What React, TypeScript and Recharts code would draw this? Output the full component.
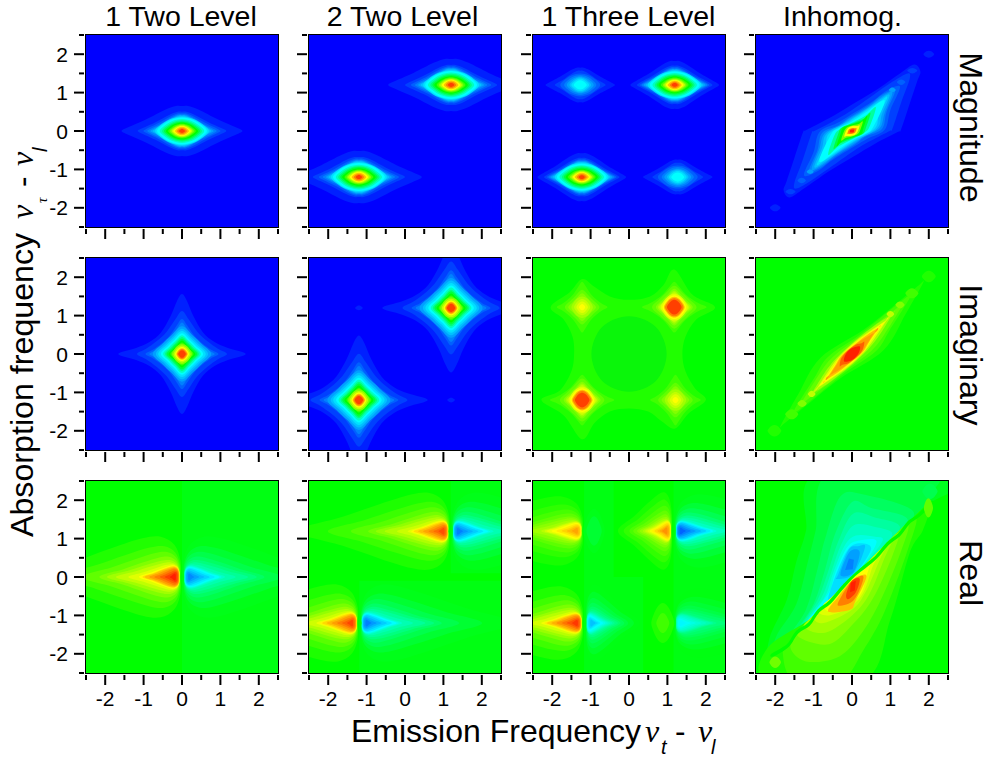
import React from "react";
import { ScatterChart, Scatter, XAxis, YAxis, ReferenceArea } from "recharts";

// axis values
const tickValues = [-2.5, -2, -1.5, -1, -0.5, 0, 0.5, 1, 1.5, 2, 2.5];
const columnTitles = ["1 Two Level", "2 Two Level", "1 Three Level", "Inhomog."];
const rowTitles = ["Magnitude", "Imaginary", "Real"];

// contour level numbers: 0 blue, 8 cyan, 16 green, 24 yellow, 32 red
type Pt = [number, number];
type Row = [number, number, number, Pt[]?];
type LobeRow = [number, number, number, number];
type Band = { level: number | string; pts: Pt[] };

// normalised first-quadrant outlines, tip on x axis to tip on y axis
const kiteOutline: Pt[] = [[1, 0], [0.94, 0.1], [0.6, 0.46], [0.28, 0.85], [0.1, 1], [0, 1]];
const roundOutline: Pt[] = [[1, 0], [0.8, 0.42], [0.45, 0.82], [0, 1]];
const starOutline: Pt[] = [[1, 0], [0.72, 0.1], [0.51, 0.2], [0.33, 0.36], [0.18, 0.63], [0.08, 0.88], [0, 1]];
const softStarOutline: Pt[] = [[1, 0], [0.8, 0.12], [0.56, 0.3], [0.34, 0.52], [0.14, 0.82], [0, 1]];
const diamondOutline: Pt[] = [[1, 0], [0.66, 0.38], [0.38, 0.66], [0, 1]];
// real-part lobe: tail tip round to the nose at the node line
const lobeOutline: Pt[] = [[1, 0], [0.7, 0.38], [0.45, 0.72], [0.25, 0.96], [0.13, 1], [0.04, 0.8], [0, 0.4], [0, 0]];

// [level, half width, half height, outline]
const magnitudeRows: Row[] = [
  [1, 1.57, 0.65, kiteOutline], [2, 1.15, 0.5, kiteOutline], [3, 1.0, 0.46, kiteOutline],
  [4, 0.9, 0.43, kiteOutline], [5, 0.82, 0.41, kiteOutline], [6, 0.76, 0.39, kiteOutline], [7, 0.7, 0.37], [8, 0.65, 0.35],
  [10, 0.58, 0.31], [12, 0.52, 0.28], [14, 0.47, 0.25], [16, 0.42, 0.22], [18, 0.36, 0.19], [20, 0.31, 0.17],
  [22, 0.27, 0.15], [24, 0.23, 0.13], [26, 0.18, 0.11], [28, 0.13, 0.08], [30, 0.08, 0.05],
];
const magnitudeInnerRows: Row[] = [
  [1, 1.15, 0.62, kiteOutline], [2, 0.98, 0.5, kiteOutline], [3, 0.9, 0.46, kiteOutline],
  [4, 0.85, 0.43, kiteOutline], [5, 0.8, 0.41, kiteOutline], [6, 0.75, 0.39, kiteOutline], ...magnitudeRows.slice(6),
];
const softMagnitudeRows: Row[] = [
  [1, 0.9, 0.45, kiteOutline], [2, 0.66, 0.37, kiteOutline], [3, 0.52, 0.3], [4, 0.42, 0.26],
  [5, 0.35, 0.22], [6, 0.28, 0.19], [7, 0.23, 0.16], [8, 0.17, 0.12],
];
const imaginaryRows: Row[] = [
  [1, 1.66, 1.56, starOutline], [2, 1.17, 1.12, softStarOutline], [3, 0.95, 0.91, softStarOutline],
  [4, 0.85, 0.82, softStarOutline], [5, 0.76, 0.72, diamondOutline], [6, 0.68, 0.66, diamondOutline],
  [7, 0.62, 0.6, diamondOutline], [8, 0.55, 0.54, diamondOutline], [10, 0.49, 0.49, diamondOutline],
  [12, 0.44, 0.44, diamondOutline], [14, 0.4, 0.4, diamondOutline], [16, 0.35, 0.35, diamondOutline],
  [18, 0.3, 0.3, diamondOutline], [20, 0.26, 0.26], [22, 0.22, 0.22], [24, 0.18, 0.18], [26, 0.15, 0.15], [28, 0.13, 0.13], [30, 0.1, 0.1],
];
const imagRedRows: Row[] = [
  [18, 0.84, 0.66, softStarOutline], [19, 0.58, 0.56, diamondOutline], [20, 0.48, 0.48, diamondOutline],
  [21, 0.43, 0.43, diamondOutline], [22, 0.39, 0.39, diamondOutline], [23, 0.35, 0.35], [24, 0.31, 0.31],
  [26, 0.27, 0.27], [28, 0.24, 0.24], [30, 0.19, 0.19],
];
const imagYellowRows: Row[] = [
  [18, 0.66, 0.66, softStarOutline], [19, 0.45, 0.45, diamondOutline], [20, 0.36, 0.36, diamondOutline],
  [21, 0.28, 0.28], [22, 0.21, 0.21], [23, 0.15, 0.15], [24, 0.08, 0.08],
];
const imagWeb: Pt[] = [
  [1.18, 2.2], [0.9, 1.8], [0.55, 1.5], [0, 1.41], [-0.5, 1.5], [-0.9, 1.75], [-1.22, 1.95], [-1.55, 1.6], [-2.04, 1.22],
  [-1.7, 0.9], [-1.47, 0.45], [-1.43, 0], [-1.5, -0.45], [-1.8, -0.95], [-2.28, -1.2], [-1.7, -1.6], [-1.22, -2.22],
  [-0.9, -1.8], [-0.5, -1.5], [0, -1.42], [0.5, -1.5], [0.85, -1.75], [1.2, -1.94], [1.55, -1.55], [2.0, -1.2],
  [1.72, -0.9], [1.47, -0.45], [1.39, 0], [1.47, 0.45], [1.75, 0.9], [2.24, 1.22], [1.65, 1.55],
];
const imagHole: Pt[] = [[0.98, 0], [0.7, 0.7], [0, 0.98], [-0.7, 0.7], [-0.98, 0], [-0.7, -0.7], [0, -0.98], [0.7, -0.7]];

// [level, tail length, half height, nose offset] for the red lobe
const lobeRows: LobeRow[] = [
  [17, 4, 1.05, 0.04], [18, 3.2, 0.8, 0.05], [19, 2.6, 0.65, 0.06], [20, 2.15, 0.53, 0.07],
  [21, 1.95, 0.44, 0.07], [22, 1.72, 0.38, 0.07], [23, 1.4, 0.33, 0.07], [24, 1.12, 0.3, 0.07],
  [25, 1.03, 0.28, 0.07], [26, 0.97, 0.26, 0.08], [27, 0.85, 0.24, 0.08], [28, 0.72, 0.21, 0.09],
  [29, 0.58, 0.17, 0.1], [30, 0.45, 0.13, 0.12], [31, 0.32, 0.09, 0.16],
];
const shortLobeRows: LobeRow[] = [
  [17, 1.45, 1.05, 0.04], [18, 1.3, 0.85, 0.05], [19, 1.15, 0.68, 0.06], [20, 1.05, 0.55, 0.07],
  [21, 0.95, 0.45, 0.08], [22, 0.88, 0.38, 0.08], [23, 0.8, 0.33, 0.09], [24, 0.74, 0.3, 0.07],
  [25, 0.68, 0.28, 0.07], [26, 0.62, 0.26, 0.08], [27, 0.56, 0.24, 0.08], [28, 0.5, 0.21, 0.09],
  [29, 0.42, 0.17, 0.1], [30, 0.36, 0.13, 0.12], [31, 0.3, 0.09, 0.16],
];

// inhomogeneous panels: half of a point-symmetric contour
const inhomogMagRows: [number, Pt[]][] = [
  [1, [[1.78, 1.55], [1.7, 1.3], [1.5, 0.7], [1.27, 0.02], [1.2, -0.02], [0.6, -0.33], [0.03, -0.67], [-0.6, -1.05], [-1.25, -1.5], [-1.62, -1.73]]],
  [2, [[1.5, 1.35], [1.3, 0.8], [1.05, 0.05], [0.98, 0], [0.5, -0.25], [0.1, -0.48], [-0.5, -0.9], [-1.05, -1.28], [-1.45, -1.5]]],
  [3, [[1.25, 1.15], [1.0, 0.55], [0.85, 0.03], [0.4, -0.2], [0.1, -0.38], [-0.5, -0.75], [-0.9, -1.05]]],
  [4, [[1.12, 1.05], [0.9, 0.5], [0.78, 0.05], [0.35, -0.15], [0.1, -0.33], [-0.45, -0.68], [-0.8, -0.95]]],
  [5, [[1.05, 1.0], [0.85, 0.47], [0.72, 0.07], [0.3, -0.14], [0.1, -0.3], [-0.42, -0.62], [-0.76, -0.88]]],
  [6, [[0.98, 0.94], [0.78, 0.44], [0.66, 0.07], [0.1, -0.26], [-0.38, -0.57], [-0.7, -0.8]]],
  [7, [[0.92, 0.88], [0.7, 0.42], [0.6, 0.07], [0.08, -0.24], [-0.68, -0.74]]],
  [8, [[0.85, 0.8], [0.55, 0.1], [0.35, -0.07], [0.05, -0.22], [-0.35, -0.48]]],
  [11, [[0.62, 0.62], [0.45, 0.1], [0.3, -0.05], [0.03, -0.2], [-0.35, -0.4]]],
  [14, [[0.48, 0.47], [0.36, 0.08], [0.28, -0.08], [0.03, -0.18], [-0.3, -0.32]]],
  [16, [[0.4, 0.4], [0.3, 0.08], [0.24, -0.08], [0.03, -0.16], [-0.25, -0.26]]],
  [20, [[0.28, 0.25], [0.22, 0.04], [0.15, -0.08], [0, -0.14], [-0.17, -0.18]]],
  [24, [[0.2, 0.14], [0.14, -0.03], [0.03, -0.12], [-0.14, -0.13]]],
  [28, [[0.12, 0.07], [0.08, -0.04], [-0.02, -0.08], [-0.09, -0.07]]],
  [31, [[0.06, 0.04], [0.04, -0.03], [-0.04, -0.04]]],
];
const inhomogMagBeads: [number, number, number, number, number][] = [
  [1, 2.0, 2.0, 0.14, 0.09], [1, -2.0, -2.0, 0.14, 0.09],
  [2, 1.57, 1.57, 0.13, 0.07], [2, -1.6, -1.58, 0.13, 0.07],
  [3, 1.28, 1.27, 0.11, 0.07], [3, -1.31, -1.29, 0.11, 0.07],
  [5, 1.05, 1.07, 0.09, 0.06], [5, -1.09, -1.06, 0.09, 0.06],
];
const inhomogImagRows: [number, Pt[]][] = [
  [17, [[1.85, 1.85], [1.4, 1.05], [0.82, 0.1], [-0.3, -0.63], [-1.2, -1.35], [-1.75, -1.8]]],
  [18, [[1.5, 1.45], [0.98, 0.62], [0.62, 0.07], [-0.2, -0.5], [-1.0, -1.15], [-1.45, -1.5]]],
  [19, [[1.3, 1.25], [0.85, 0.52], [0.5, 0.08], [-0.15, -0.42], [-0.75, -0.88], [-1.25, -1.25]]],
  [21, [[1.08, 1.08], [0.72, 0.5], [0.4, 0.1], [-0.1, -0.36], [-0.6, -0.75], [-1.05, -1.05]]],
  [23, [[0.95, 0.95], [0.6, 0.42], [0.34, 0.08], [-0.08, -0.32], [-0.5, -0.62], [-0.92, -0.9]]],
  [24, [[0.9, 0.9], [0.52, 0.38], [0.3, 0.06], [-0.07, -0.28], [-0.45, -0.56], [-0.88, -0.86]]],
  [26, [[0.72, 0.72], [0.45, 0.32], [0.27, 0.04], [-0.06, -0.24], [-0.4, -0.5], [-0.72, -0.7]]],
  [27, [[0.65, 0.66], [0.4, 0.28], [0.24, 0.03], [-0.05, -0.22], [-0.35, -0.42], [-0.65, -0.6]]],
  [29, [[0.32, 0.32], [0.28, 0.12], [0.12, -0.08], [-0.1, -0.24], [-0.25, -0.28]]],
  [31, [[0.2, 0.2], [0.17, 0.02], [0.02, -0.14]]],
];
const inhomogImagBeads: [number, number, number, number, number][] = [
  [17, 2.0, 2.02, 0.18, 0.15], [17, -2.02, -2.0, 0.18, 0.15],
  [18, 1.56, 1.58, 0.17, 0.13], [18, -1.57, -1.57, 0.17, 0.13],
  [20, 1.25, 1.28, 0.12, 0.09], [20, -1.3, -1.29, 0.12, 0.09],
  [22, 1.0, 1.04, 0.1, 0.08], [22, -1.05, -1.04, 0.1, 0.08],
];
const inhomogRealBlue: [number, Pt[]][] = [
  [15, [[-2.1, -2.2], [-2.15, -1.6], [-1.7, -0.6], [-1.45, 0.4], [-1.2, 1.2], [-0.9, 2.7], [2.7, 2.7], [2.7, 2.3], [1.95, 1.87], [1, 0.96], [0, 0.02], [-1, -1.02]]],
  [14, [[-2.0, -1.95], [-1.95, -1.5], [-1.45, -0.7], [-1.15, 0.4], [-0.95, 1.2], [-0.6, 2.7], [2.1, 2.7], [2.1, 2.2], [1.9, 1.85], [1, 0.96], [0, 0.02], [-1, -1.02]]],
  [13, [[-1.75, -1.7], [-1.2, -0.85], [-0.9, 0.2], [-0.7, 1], [-0.3, 2.1], [0.3, 2.15], [1.6, 1.7], [1, 0.96], [0, 0.02], [-1, -1.02]]],
  [12, [[-1.5, -1.5], [-1.0, -0.7], [-0.7, 0.2], [-0.45, 1.1], [0, 1.95], [0.5, 1.8], [1.45, 1.5], [0.8, 0.78], [0, 0.02], [-0.8, -0.82]]],
  [11, [[-1.35, -1.35], [-0.9, -0.6], [-0.62, 0.15], [-0.35, 0.95], [0.03, 1.65], [0.6, 1.55], [1.25, 1.3], [0.7, 0.68], [0, 0.02], [-0.7, -0.72]]],
  [10, [[-1.25, -1.25], [-0.8, -0.55], [-0.55, 0.1], [-0.28, 0.85], [0.05, 1.35], [0.6, 1.3], [1.05, 1.1], [0.5, 0.48], [0, 0.02], [-0.6, -0.62]]],
  [9, [[-1.2, -1.2], [-0.7, -0.5], [-0.5, 0.08], [-0.2, 0.8], [0.1, 1.08], [0.6, 1.05], [0.8, 0.95], [0.4, 0.42], [0, 0.02], [-0.6, -0.62]]],
  [8, [[-1.15, -1.15], [-0.6, -0.4], [-0.44, 0.1], [-0.12, 0.78], [0.2, 0.95], [0.64, 0.93], [0.3, 0.32], [0, 0.02], [-0.6, -0.62]]],
  [7, [[-0.62, -0.6], [-0.42, 0.05], [-0.1, 0.72], [0.2, 0.88], [0.5, 0.75], [0.2, 0.22], [0, 0.02], [-0.3, -0.32]]],
  [6, [[-0.4, -0.05], [-0.36, 0.06], [-0.08, 0.72], [0.15, 0.8], [0.34, 0.78], [0.03, 0.08]]],
  [5, [[-0.3, 0.05], [-0.1, 0.6], [0.1, 0.72], [0.2, 0.6], [0.03, 0.12]]],
  [4, [[-0.18, 0.18], [-0.08, 0.48], [0.05, 0.45], [0.02, 0.2]]],
];
const inhomogRealRed: [number, Pt[]][] = [
  [17, [[2.0, 1.9], [1.85, 1.23], [1.5, 0.62], [1, -1.1], [0.3, -2.7], [-2.2, -2.7], [-2.2, -1.85], [-1, -1.02], [0, -0.02], [1, 0.95]]],
  [18, [[1.65, 1.55], [1.45, 0.7], [0.85, -0.9], [0.3, -1.9], [-0.3, -2.7], [-1.5, -2.7], [-1.8, -2.0], [-1.6, -1.65], [-0.8, -0.82], [0, -0.02], [0.8, 0.76]]],
  [19, [[1.45, 1.38], [1.25, 0.6], [0.7, -0.7], [0.15, -1.6], [-0.4, -2.1], [-1.2, -2.2], [-1.6, -1.85], [-1.4, -1.45], [-0.7, -0.72], [0, -0.02], [0.7, 0.66]]],
  [20, [[1.2, 1.15], [1.05, 0.55], [0.55, -0.55], [0.05, -1.2], [-0.6, -1.75], [-1.4, -1.55], [-1.2, -1.2], [-0.6, -0.62], [0, -0.02], [0.6, 0.56]]],
  [21, [[1.05, 1.0], [0.85, 0.5], [0.45, -0.45], [0, -1], [-0.7, -1.45], [-1.25, -1.3], [-1.0, -1], [-0.5, -0.52], [0, -0.02], [0.5, 0.47]]],
  [22, [[0.9, 0.85], [0.7, 0.4], [0.35, -0.4], [0, -0.85], [-0.75, -1.2], [-1, -1.05], [-0.8, -0.8], [-0.4, -0.42], [0, -0.02], [0.45, 0.42]]],
  [23, [[0.8, 0.75], [0.55, 0.3], [0.3, -0.4], [-0.05, -0.78], [-0.6, -1], [-0.9, -0.9], [-0.7, -0.7], [-0.35, -0.37], [0, -0.02], [0.4, 0.37]]],
  [24, [[0.68, 0.62], [0.45, 0.25], [0.25, -0.4], [-0.05, -0.7], [-0.55, -0.9], [-0.75, -0.75], [-0.55, -0.55], [-0.25, -0.27], [0, -0.02], [0.35, 0.32]]],
  [26, [[0.38, 0.02], [0.08, -0.65], [-0.05, -0.85], [-0.62, -0.9], [-0.35, -0.5], [0.05, -0.05]]],
  [28, [[0.3, 0], [0.05, -0.6], [-0.35, -0.75], [-0.3, -0.55], [0, -0.1]]],
  [30, [[0.2, -0.05], [0.1, -0.4], [-0.1, -0.58], [-0.15, -0.45], [0, -0.1]]],
  [31, [[0.1, -0.1], [0.07, -0.35], [-0.05, -0.4], [-0.03, -0.15]]],
];
// stepped green seam between the two sides of the last panel
const inhomogRealSeam: Pt[] = [
  [-2.1, -2.0], [-1.7, -1.75], [-1.45, -1.4], [-1.15, -1.2], [-0.9, -0.85], [-0.6, -0.62], [-0.3, -0.27], [-0.08, -0.04],
  [0.3, 0.3], [0.6, 0.55], [0.9, 0.9], [1.2, 1.13], [1.45, 1.45], [1.7, 1.63], [2.05, 1.97],
  [2.1, 1.9], [1.75, 1.56], [1.5, 1.38], [1.25, 1.06], [0.95, 0.83], [0.65, 0.48], [0.35, 0.23],
  [0.08, 0.02], [-0.25, -0.34], [-0.55, -0.69], [-0.85, -0.92], [-1.1, -1.27], [-1.4, -1.47], [-1.65, -1.82], [-2.05, -2.07],
];

const levelColor = (v: number | string) => {
  if (typeof v === "string") return v;
  const c = (n: number) => Math.round(Math.max(0, Math.min(255, n)));
  if (v <= 8) return `rgb(0,${c(v * 32)},255)`;
  if (v <= 16) return `rgb(0,255,${c(255 - (v - 8) * 32)})`;
  if (v <= 24) return `rgb(${c((v - 16) * 32)},255,0)`;
  return `rgb(255,${c(255 - (v - 24) * 32)},0)`;
};

const mirror4 = (cx: number, cy: number, hx: number, hy: number, o: Pt[]): Pt[] => {
  const q: Pt[] = [
    ...o,
    ...o.slice(0, -1).reverse().map(([u, v]) => [-u, v] as Pt),
    ...o.slice(1).map(([u, v]) => [-u, -v] as Pt),
    ...o.slice(1, -1).reverse().map(([u, v]) => [u, -v] as Pt),
  ];
  return q.map(([u, v]) => [cx + u * hx, cy + v * hy] as Pt);
};
const blob = (cx: number, cy: number, rows: Row[], size = 1): Band[] =>
  rows.map(([level, hx, hy, o]) => ({ level, pts: mirror4(cx, cy, hx * size, hy * size, o ?? roundOutline) }));

// dir -1: red lobe left of the node, dir 1: blue lobe right of it
const lobe = (node: number, cy: number, dir: number, amp: number, hScale = 1, rows = lobeRows): Band[] =>
  rows.map(([lv, tip, hy, nose]) => {
    const upper = lobeOutline.map(([f, h]) => [node + dir * (nose + f * (tip - nose)), cy + h * hy * hScale] as Pt);
    const lower = upper.slice(1, -1).reverse().map(([x, y]) => [x, 2 * cy - y] as Pt);
    return { level: dir < 0 ? 16 + (lv - 16) * amp : 16 - (lv - 16) * amp, pts: [...upper, ...lower] };
  });

const rect = (level: number, x0: number, x1: number, y0: number, y1: number): Band => ({
  level,
  pts: [[x0, y0], [x1, y0], [x1, y1], [x0, y1]],
});
const pointSym = (rows: [number, Pt[]][]): Band[] =>
  rows.map(([level, half]) => ({ level, pts: [...half, ...half.map(([x, y]) => [-x, -y] as Pt)] }));
const beads = (rows: [number, number, number, number, number][]): Band[] =>
  rows.map(([level, cx, cy, hx, hy]) => ({ level, pts: mirror4(cx, cy, hx, hy, roundOutline) }));
const open = (rows: [number, Pt[]][]): Band[] => rows.map(([level, pts]) => ({ level, pts }));

const panels: Band[][][] = [
  [
    [rect(0, -3, 3, -3, 3), ...blob(0, 0, magnitudeRows)],
    [rect(0, -3, 3, -3, 3), ...blob(-1.2, -1.2, magnitudeRows, 1.04), ...blob(1.2, 1.2, magnitudeRows, 1.04)],
    [
      rect(0, -3, 3, -3, 3),
      ...blob(-1.27, 1.2, softMagnitudeRows),
      ...blob(1.27, -1.2, softMagnitudeRows),
      ...blob(1.19, 1.2, magnitudeInnerRows),
      ...blob(-1.23, -1.2, magnitudeInnerRows),
    ],
    [rect(0, -3, 3, -3, 3), ...pointSym(inhomogMagRows), ...beads(inhomogMagBeads)],
  ],
  [
    [rect(0, -3, 3, -3, 3), ...blob(0, 0, imaginaryRows)],
    [
      rect(0, -3, 3, -3, 3),
      ...beads([[1, -1.2, 1.2, 0.1, 0.06], [1, 1.2, -1.2, 0.1, 0.06]]),
      ...blob(-1.2, -1.2, imaginaryRows, 1.08),
      ...blob(1.2, 1.2, imaginaryRows, 1.08),
    ],
    [
      rect(16, -3, 3, -3, 3),
      { level: 17, pts: imagWeb },
      { level: "rgb(10,246,10)", pts: imagHole },
      ...blob(-1.22, 1.22, imagYellowRows),
      ...blob(1.21, -1.2, imagYellowRows),
      ...blob(1.18, 1.22, imagRedRows),
      ...blob(-1.22, -1.2, imagRedRows),
    ],
    [rect(16, -3, 3, -3, 3), ...pointSym(inhomogImagRows), ...beads(inhomogImagBeads)],
  ],
  [
    [rect(16, -3, 3, -3, 3), rect(15.4, 0, 3, -3, 3), ...lobe(0, 0, -1, 1), ...lobe(0, 0, 1, 0.78)],
    [
      rect(16, -3, 3, -3, 3),
      rect(15.4, -1.19, 3, -3, -0.1),
      rect(15.4, 1.19, 3, 0.1, 3),
      ...lobe(1.19, 1.19, -1, 0.9, 0.95),
      ...lobe(1.19, 1.19, 1, 0.8, 0.95),
      ...lobe(-1.19, -1.2, -1, 0.92, 0.95),
      ...lobe(-1.19, -1.2, 1, 0.8, 0.95),
    ],
    [
      rect(16, -3, 3, -3, 3),
      rect(15.4, -1.17, -0.4, 0, 3),
      rect(15.4, -1.17, 0.37, -3, 0),
      rect(15.4, 1.16, 3, -3, 3),
      ...lobe(-1.17, 1.2, -1, 0.72, 0.85),
      ...blob(-0.91, 1.2, [[15.2, 0.28, 0.58], [14.4, 0.2, 0.38]]),
      ...lobe(1.16, 1.2, -1, 0.76, 0.95, shortLobeRows),
      ...lobe(1.16, 1.2, 1, 0.86, 0.9),
      ...lobe(-1.17, -1.2, -1, 0.95, 0.9),
      ...lobe(-1.17, -1.2, 1, 0.66, 0.95, shortLobeRows),
      ...blob(0.88, -1.2, [[17, 0.3, 0.52], [18, 0.17, 0.26]]),
      ...lobe(1.16, -1.2, 1, 0.55, 0.85),
    ],
    [
      rect(16, -3, 3, -3, 3),
      ...open(inhomogRealBlue),
      ...open(inhomogRealRed),
      { level: 16, pts: inhomogRealSeam },
      ...beads([[13.5, 2.03, 2.23, 0.2, 0.2], [19.5, -2.0, -2.22, 0.15, 0.15], [19, 1.99, 1.8, 0.12, 0.25]]),
    ],
  ],
];

const columnLeft = [86, 309, 533, 756];
const rowTop = [35, 258, 481];
const plotSize = 192;
const sans = "'Liberation Sans', Arial, sans-serif";
const serif = "'Liberation Serif', 'Times New Roman', serif";

// closed Catmull-Rom through the scaled points
const closedPath = (pts: { x: number; y: number }[]) => {
  const n = pts.length;
  if (n <= 4) return "M" + pts.map((p) => `${p.x},${p.y}`).join("L") + "Z";
  let d = `M${pts[0].x},${pts[0].y}`;
  for (let i = 0; i < n; i++) {
    const a = pts[(i - 1 + n) % n], b = pts[i], c = pts[(i + 1) % n], e = pts[(i + 2) % n];
    d += `C${b.x + (c.x - a.x) / 6},${b.y + (c.y - a.y) / 6} ${c.x - (e.x - b.x) / 6},${c.y - (e.y - b.y) / 6} ${c.x},${c.y}`;
  }
  return d + "Z";
};

const XTick = ({ x, y, payload, labelled }: any) => {
  const major = Number.isInteger(payload.value);
  return (
    <g>
      <line x1={x} x2={x} y1={y} y2={y + (major ? 10 : 5)} stroke="#000" strokeWidth={2} />
      {labelled && major ? (
        <text x={x} y={y + 31} textAnchor="middle" fontSize={21} fontFamily={sans} fill="#000">{payload.value}</text>
      ) : null}
    </g>
  );
};
const YTick = ({ x, y, payload, labelled }: any) => {
  const major = Number.isInteger(payload.value);
  return (
    <g>
      <line x1={x} x2={x - (major ? 10 : 5)} y1={y} y2={y} stroke="#000" strokeWidth={2} />
      {labelled && major ? (
        <text x={x - 16} y={y + 7.5} textAnchor="end" fontSize={21} fontFamily={sans} fill="#000">{payload.value}</text>
      ) : null}
    </g>
  );
};

const Panel = ({ bands, row, col }: { bands: Band[]; row: number; col: number }) => (
  <div style={{ position: "absolute", left: columnLeft[col] - 60, top: rowTop[row] - 6 }}>
    <ScatterChart width={plotSize + 66} height={plotSize + 46} margin={{ top: 6, right: 6, bottom: 0, left: 0 }}>
      <XAxis
        type="number"
        dataKey="x"
        domain={[-2.5, 2.5]}
        ticks={tickValues}
        interval={0}
        allowDataOverflow
        height={40}
        tickSize={0}
        axisLine={false}
        tickLine={false}
        tick={<XTick labelled={row === 2} />}
      />
      <YAxis
        type="number"
        dataKey="y"
        domain={[-2.5, 2.5]}
        ticks={tickValues}
        interval={0}
        allowDataOverflow
        width={60}
        tickSize={0}
        axisLine={false}
        tickLine={false}
        tick={<YTick labelled={col === 0} />}
      />
      {bands.map((b, i) => {
        const data = b.pts.map(([x, y]) => ({ x, y }));
        const fill = levelColor(b.level);
        return (
          <Scatter
            key={i}
            data={data}
            isAnimationActive={false}
            line={(p: any) => <path d={closedPath(p.points)} fill={fill} stroke="none" style={{ filter: "blur(0.5px)" }} />}
            shape={() => <g />}
            legendType="none"
          />
        );
      })}
      <ReferenceArea x1={-2.5} x2={2.5} y1={-2.5} y2={2.5} fill="none" stroke="#000" strokeWidth={2} ifOverflow="visible" />
    </ScatterChart>
  </div>
);

const titleX = [181, 402.5, 628.5, 842.5];
const rowLabelY = [127.5, 355, 573];

export default function App() {
  return (
    <div style={{ position: "absolute", left: 0, top: 0, width: 989, height: 759, overflow: "hidden", background: "#fff" }}>
      {panels.map((rowPanels, r) =>
        rowPanels.map((bands, c) => <Panel key={`${r}-${c}`} bands={bands} row={r} col={c} />)
      )}
      <svg width={989} height={759} style={{ position: "absolute", left: 0, top: 0, pointerEvents: "none" }} fontFamily={sans} fill="#000">
        {columnTitles.map((t, i) => (
          <text key={t} x={titleX[i]} y={26} textAnchor="middle" fontSize={28.5}>{t}</text>
        ))}
        {rowTitles.map((t, i) => (
          <text key={t} transform={`translate(960,${rowLabelY[i]}) rotate(90)`} textAnchor="middle" fontSize={32.2}>{t}</text>
        ))}
        <text transform="translate(33,537) rotate(-90)" fontSize={32.2}>Absorption frequency</text>
        <g fontFamily={serif} fontStyle="italic">
          <text transform="translate(33,219) rotate(-90)" fontSize={32}>ν</text>
          <text transform="translate(47,203) rotate(-90)" fontSize={15}>τ</text>
          <text transform="translate(33,166) rotate(-90)" fontSize={32}>ν</text>
        </g>
        <text transform="translate(33,187) rotate(-90)" fontSize={31.5}>-</text>
        <text transform="translate(47,152) rotate(-90)" fontSize={20} fontStyle="italic">l</text>

        <text x={351} y={742} fontSize={32}>Emission Frequency</text>
        <g fontFamily={serif} fontStyle="italic">
          <text x={645} y={742} fontSize={32}>ν</text>
          <text x={698} y={742} fontSize={32}>ν</text>
        </g>
        <text x={661} y={754} fontSize={20} fontStyle="italic">t</text>
        <text x={675} y={742} fontSize={31.5}>-</text>
        <text x={711} y={754} fontSize={20} fontStyle="italic">l</text>
      </svg>
    </div>
  );
}
